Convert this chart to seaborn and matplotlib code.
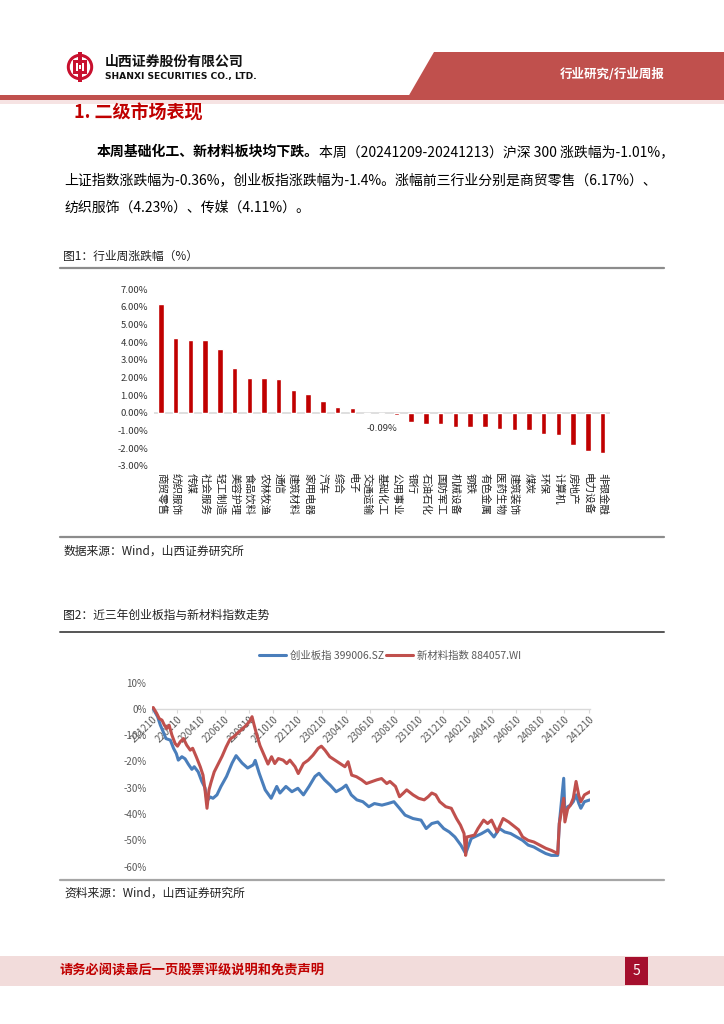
import matplotlib
matplotlib.use('Agg')
import matplotlib.pyplot as plt
from matplotlib.patches import Polygon, Rectangle, Circle
import seaborn as sns
import pandas as pd

# ---- figure 1: weekly change by industry (%) ----
industries = ['商贸零售', '纺织服饰', '传媒', '社会服务', '轻工制造', '美容护理', '食品饮料',
              '农林牧渔', '通信', '建筑材料', '家用电器', '汽车', '综合', '电子', '交通运输',
              '基础化工', '公用事业', '银行', '石油石化', '国防军工', '机械设备', '钢铁',
              '有色金属', '医药生物', '建筑装饰', '煤炭', '环保', '计算机', '房地产',
              '电力设备', '非银金融']
weekly_change = [6.17, 4.23, 4.11, 4.10, 3.61, 2.53, 2.00, 1.98, 1.91, 1.29, 1.06, 0.68,
                 0.32, 0.25, -0.05, -0.09, -0.13, -0.55, -0.64, -0.66, -0.79, -0.79, -0.83,
                 -0.93, -1.00, -1.00, -1.21, -1.27, -1.85, -2.14, -2.27]
bar_yticks = [-3, -2, -1, 0, 1, 2, 3, 4, 5, 6, 7]
labelled_industry = '基础化工'

# ---- figure 2: cumulative change (%) ----
cyb_dates = ['2021-12-13', '2021-12-24', '2021-12-31', '2022-01-07', '2022-01-14', '2022-01-25',
             '2022-02-02', '2022-02-09', '2022-02-14', '2022-02-23', '2022-03-03', '2022-03-11',
             '2022-03-20', '2022-03-26', '2022-04-05', '2022-04-14', '2022-04-22', '2022-04-27',
             '2022-05-05', '2022-05-12', '2022-05-22', '2022-06-01', '2022-06-15', '2022-06-29',
             '2022-07-09', '2022-07-24', '2022-08-07', '2022-08-21', '2022-08-26', '2022-09-05',
             '2022-09-20', '2022-10-05', '2022-10-19', '2022-10-27', '2022-11-11', '2022-11-26',
             '2022-12-11', '2022-12-25', '2023-01-08', '2023-01-23', '2023-02-02', '2023-02-16',
             '2023-03-02', '2023-03-17', '2023-04-01', '2023-04-11', '2023-04-24', '2023-05-08',
             '2023-05-23', '2023-06-07', '2023-06-21', '2023-07-10', '2023-07-25', '2023-08-09',
             '2023-08-23', '2023-09-06', '2023-09-26', '2023-10-16', '2023-10-29', '2023-11-12',
             '2023-11-27', '2023-12-12', '2023-12-26', '2024-01-09', '2024-01-24', '2024-02-05',
             '2024-02-19', '2024-02-27', '2024-03-16', '2024-04-01', '2024-04-16', '2024-04-30',
             '2024-05-13', '2024-05-28', '2024-06-12', '2024-06-27', '2024-07-11', '2024-07-25',
             '2024-08-09', '2024-08-24', '2024-09-07', '2024-09-23', '2024-09-27', '2024-10-08',
             '2024-10-11', '2024-10-18', '2024-10-25', '2024-11-01', '2024-11-08', '2024-11-15',
             '2024-11-20', '2024-11-29', '2024-12-13']
cyb_vals = [0, -3, -6.2, -8.7, -11.3, -11.9, -15, -17, -19.5, -18.2, -19, -21,
            -23, -22, -24, -27.6, -30, -35, -33.5, -34, -32.7, -29.5, -25.7, -20.6,
            -17.8, -20.6, -22.5, -21.3, -19.6, -24.5, -30.8, -34, -29.5, -32, -29.5, -31.5,
            -30.2, -32.7, -29.5, -25.7, -24.5, -27, -29, -31.5, -30.2, -29, -32.7, -34.6,
            -35.3, -37.2, -36, -36.6, -36, -35.3, -37.8, -40.4, -41.7, -42.3, -45.5, -43.6,
            -43, -45.5, -46.8, -48.7, -51.8, -55, -49.3, -48.7, -47.4, -46, -48.7, -45.5,
            -46.8, -47.4, -48.7, -50, -51.8, -52.5, -53.8, -55, -55.7, -55.7, -43.6, -26.4,
            -40, -37.2, -36.6, -35.3, -32.7, -36, -37.8, -35.3, -34.6]

xcl_dates = ['2021-12-13', '2021-12-22', '2021-12-28', '2022-01-04', '2022-01-10', '2022-01-16',
             '2022-01-22', '2022-01-29', '2022-02-06', '2022-02-12', '2022-02-19', '2022-02-27',
             '2022-03-07', '2022-03-16', '2022-03-22', '2022-03-31', '2022-04-10', '2022-04-17',
             '2022-04-22', '2022-04-27', '2022-05-02', '2022-05-07', '2022-05-15', '2022-05-25',
             '2022-06-04', '2022-06-14', '2022-06-24', '2022-07-04', '2022-07-14', '2022-07-26',
             '2022-08-05', '2022-08-13', '2022-08-18', '2022-08-23', '2022-08-30', '2022-09-07',
             '2022-09-17', '2022-09-27', '2022-10-06', '2022-10-14', '2022-10-23', '2022-11-04',
             '2022-11-13', '2022-11-21', '2022-12-04', '2022-12-12', '2022-12-25', '2023-01-06',
             '2023-01-18', '2023-01-31', '2023-02-08', '2023-02-17', '2023-03-01', '2023-03-14',
             '2023-03-27', '2023-04-08', '2023-04-16', '2023-04-25', '2023-05-07', '2023-05-20',
             '2023-06-01', '2023-06-14', '2023-06-27', '2023-07-09', '2023-07-22', '2023-07-30',
             '2023-08-13', '2023-08-23', '2023-09-02', '2023-09-10', '2023-09-26', '2023-10-10',
             '2023-10-24', '2023-11-03', '2023-11-12', '2023-11-22', '2023-12-02', '2023-12-17',
             '2023-12-31', '2024-01-13', '2024-01-23', '2024-02-01', '2024-02-05', '2024-02-08',
             '2024-02-27', '2024-03-07', '2024-03-21', '2024-03-31', '2024-04-10', '2024-04-24',
             '2024-05-09', '2024-05-23', '2024-06-07', '2024-06-17', '2024-06-27', '2024-07-11',
             '2024-07-25', '2024-08-09', '2024-08-24', '2024-09-07', '2024-09-23', '2024-09-27',
             '2024-10-08', '2024-10-11', '2024-10-18', '2024-10-25', '2024-11-01', '2024-11-08',
             '2024-11-15', '2024-11-20', '2024-11-29', '2024-12-13']
xcl_vals = [0.5, -1.8, -3.7, -4.3, -6.2, -7.5, -6.2, -10, -13.2, -14.2, -12.5, -11.3,
            -13.8, -15.7, -15, -18.2, -22, -25.2, -30.8, -37.8, -30.8, -28, -24, -21,
            -18, -14.5, -11.5, -10.5, -9, -7.5, -6, -4.5, -3, -6, -10, -14,
            -17.5, -21, -18.2, -20.8, -18.9, -19.5, -20.8, -19.5, -22, -24.6, -20.8, -19.5,
            -17.6, -15, -14.2, -15.7, -18.2, -19.5, -20.8, -22, -20.1, -25.2, -25.8, -27,
            -28.4, -27.7, -27, -26.5, -28.4, -27.6, -29.5, -33.4, -32, -30.8, -32.7, -34,
            -34.6, -33.4, -32, -32.7, -35.3, -37.2, -37.8, -41.7, -44.2, -47.4, -55.7, -48.7,
            -48, -45.5, -42.3, -43.6, -42.3, -46.8, -41.7, -43, -44.8, -46, -48.7, -50,
            -50.6, -51.8, -53, -53.8, -55, -43.6, -34, -43, -38, -36.6, -34, -27.6,
            -33, -35.3, -32.7, -31.5]

line_yticks = [-60, -50, -40, -30, -20, -10, 0, 10]
date_tick_labels = ['211210', '220210', '220410', '220610', '220810', '221010', '221210',
                    '230210', '230410', '230610', '230810', '231010', '231210', '240210',
                    '240410', '240610', '240810', '241010', '241210']

sns.set_theme(style='white')
plt.rcParams['font.family'] = ['Noto Sans CJK SC', 'DejaVu Sans']
plt.rcParams['axes.unicode_minus'] = False

RED = '#c0504d'
DARK_RED = '#c00000'
W, H = 724, 1024

fig = plt.figure(figsize=(7.24, 10.24), dpi=100)

# page layer in pixel coordinates
bg = fig.add_axes([0, 0, 1, 1], zorder=0)
bg.set_xlim(0, W)
bg.set_ylim(H, 0)
bg.axis('off')

# header
bg.add_patch(Circle((80, 67), 12.5, color='#c8102e'))
bg.add_patch(Circle((80, 67), 9.5, color='white'))
bg.add_patch(Rectangle((73, 60), 14, 14, fc='#c8102e', ec='none'))
bg.add_patch(Rectangle((76, 63), 8, 8, fc='white', ec='none'))
bg.add_patch(Rectangle((78, 52), 4, 30, fc='#c8102e', ec='none'))
bg.add_patch(Rectangle((79, 65), 2, 4, fc='white', ec='none'))
bg.text(105, 62, '山西证券股份有限公司', fontsize=10, weight='bold', va='center', color='#111111')
bg.text(105, 77, 'SHANXI SECURITIES CO., LTD.', fontsize=6.6, weight='bold', va='center',
        color='#111111', family='DejaVu Sans')
bg.add_patch(Polygon([(408, 97), (434, 52), (W, 52), (W, 97)], closed=True, fc=RED, ec='none'))
bg.add_patch(Rectangle((0, 95), W, 4.5, fc=RED, ec='none'))
bg.add_patch(Rectangle((0, 99.5), W, 4, fc='#f6e3e3', ec='none'))
bg.text(612, 74, '行业研究/行业周报', fontsize=9, weight='bold', color='white', va='center', ha='center')

# section title and body
bg.text(74, 113, '1. 二级市场表现', fontsize=13, weight='bold', color=DARK_RED, va='center')
t1 = bg.text(97, 152, '本周基础化工、新材料板块均下跌。', fontsize=10, weight='bold', va='center',
             color='black')
bg.annotate('本周（20241209-20241213）沪深 300 涨跌幅为-1.01%，', xy=(1, 0.5), xycoords=t1,
            va='center', ha='left', fontsize=10, color='black')
bg.text(64, 180, '上证指数涨跌幅为-0.36%，创业板指涨跌幅为-1.4%。涨幅前三行业分别是商贸零售（6.17%）、',
        fontsize=10, va='center', color='black')
bg.text(64, 208, '纺织服饰（4.23%）、传媒（4.11%）。', fontsize=10, va='center', color='black')

# figure 1 frame
bg.text(63, 256, '图1：行业周涨跌幅（%）', fontsize=8.5, va='center', color='#222222')
bg.plot([60, 664], [268, 268], color='#8c8c8c', lw=1.6)
bg.plot([60, 664], [537, 537], color='#8c8c8c', lw=1.6)
bg.text(64, 551, '数据来源：Wind，山西证券研究所', fontsize=8.5, va='center', color='#222222')

# figure 2 frame
bg.text(63, 615, '图2：近三年创业板指与新材料指数走势', fontsize=8.5, va='center', color='#222222')
bg.plot([60, 664], [632, 632], color='#555555', lw=1.4)
bg.plot([60, 664], [880, 880], color='#a6a6a6', lw=1.6)
bg.text(64, 893, '资料来源：Wind，山西证券研究所', fontsize=8.5, va='center', color='#222222')

# footer
bg.add_patch(Rectangle((0, 956), W, 30, fc='#f2dcdb', ec='none'))
bg.text(60, 971, '请务必阅读最后一页股票评级说明和免责声明', fontsize=9.5, weight='bold',
        color=DARK_RED, va='center')
bg.add_patch(Rectangle((625, 957), 23, 28, fc='#a50f2d', ec='none'))
bg.text(636.5, 971, '5', fontsize=10, color='white', ha='center', va='center')

# ---- bar chart ----
ax1 = fig.add_axes([153.6 / W, 1 - 465.7 / H, 456.3 / W, 176.4 / H], zorder=2)
ax1.patch.set_alpha(0)
bar_df = pd.DataFrame({'industry': industries, 'change': weekly_change})
sns.barplot(data=bar_df, x='industry', y='change', order=industries, color='#c00000',
            saturation=1, width=0.37, ax=ax1)
ax1.set_xlim(-0.5, len(industries) - 0.5)
ax1.set_ylim(-3, 7)
ax1.set_yticks(bar_yticks)
ax1.yaxis.set_major_formatter(lambda v, p: f'{v:.2f}%')
ax1.axhline(0, color='#d9d9d9', lw=1.2, zorder=0)
for s in ax1.spines.values():
    s.set_visible(False)
ax1.tick_params(axis='y', length=0, pad=4, labelsize=6.8, labelcolor='#333333')
ax1.tick_params(axis='x', length=0, pad=5, labelsize=7.6, labelcolor='#222222')
for lab in ax1.get_xticklabels():
    lab.set_rotation(270)
    lab.set_va('top')
    lab.set_ha('center')
ax1.set_xlabel('')
ax1.set_ylabel('')
k = industries.index(labelled_industry)
ax1.annotate(f'{weekly_change[k]:.2f}%', xy=(k, weekly_change[k]), xytext=(0, -7),
             textcoords='offset points', ha='center', va='top', fontsize=6.8, color='#333333')

# ---- line chart ----
ax2 = fig.add_axes([152 / W, 1 - 866.7 / H, 438 / W, 184.2 / H], zorder=2)
ax2.patch.set_alpha(0)
sns.lineplot(x=pd.to_datetime(cyb_dates), y=cyb_vals, color='#4a7ebb', lw=2.2,
             label='创业板指 399006.SZ', ax=ax2, zorder=5)
sns.lineplot(x=pd.to_datetime(xcl_dates), y=xcl_vals, color=RED, lw=2.2,
             label='新材料指数 884057.WI', ax=ax2, zorder=5)
ax2.set_xlim(pd.Timestamp('2021-12-10'), pd.Timestamp('2024-12-13'))
ax2.set_ylim(-60, 10)
ax2.set_yticks(line_yticks)
ax2.yaxis.set_major_formatter(lambda v, p: f'{v:.0f}%')
ax2.set_xticks(pd.to_datetime(date_tick_labels, format='%y%m%d'))
ax2.set_xticklabels(date_tick_labels)
for name in ['top', 'right', 'left']:
    ax2.spines[name].set_visible(False)
ax2.spines['bottom'].set_position(('data', 0))
ax2.spines['bottom'].set_color('#d9d9d9')
ax2.spines['bottom'].set_linewidth(1.0)
ax2.tick_params(axis='y', length=0, pad=4, labelsize=7, labelcolor='#595959')
ax2.tick_params(axis='x', length=3, width=0.8, color='#d9d9d9', direction='out', pad=1,
                labelsize=7, labelcolor='#595959', bottom=True)
for lab in ax2.get_xticklabels():
    lab.set_rotation(45)
    lab.set_ha('right')
    lab.set_va('top')
    lab.set_rotation_mode('anchor')
ax2.set_xlabel('')
ax2.set_ylabel('')
ax2.legend(loc='center', bbox_to_anchor=(390 / W, 1 - 656 / H), bbox_transform=fig.transFigure,
           ncol=2, frameon=False, fontsize=7.5, handlelength=2.6, columnspacing=0.2,
           handletextpad=0.4, labelcolor='#595959')

fig.savefig('out.png', dpi=100)
